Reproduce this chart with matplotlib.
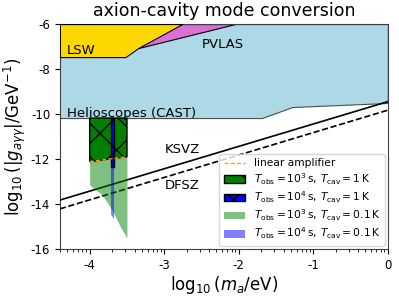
import numpy as np
import matplotlib
matplotlib.use("Agg")
import matplotlib.pyplot as plt
from matplotlib.ticker import FixedLocator

plt.rcParams["axes.unicode_minus"] = False

# exclusion limits (log10 m_a [eV], log10 g [GeV^-1])
cast_m = [-4.4, -1.69, -1.28, 0.0]
cast_g = [-10.18, -10.18, -9.69, -9.51]
lsw_m = [-4.4, -3.52, -3.35, -2.76]
lsw_g = [-7.47, -7.47, -7.07, -6.0]
pvlas_m = [-3.35, -2.05]
pvlas_g = [-7.07, -6.0]

# QCD axion lines
line_m = [-4.4, 0.0]
ksvz_g = [-13.83, -9.45]
dfsz_g = [-14.22, -9.83]

# projected sensitivities
top_g = -10.18
green_m = [-4.0, -3.5]
green1k_low = [-12.12, -11.9]
green01k_m = [-4.0, -4.0, -3.83, -3.70, -3.59, -3.5]
green01k_low = [-12.12, -13.16, -13.6, -14.27, -15.0, -15.52]
blue_m = [-3.72, -3.68]
blue1k_low = [-12.36, -12.36]
blue01k_low = [-14.45, -14.65]
amp_m = [-4.0, -3.5]
amp_g = [-12.12, -11.9]

fig = plt.figure(figsize=(3.99, 2.97), dpi=100)
ax = fig.add_axes([0.150, 0.162, 0.822, 0.757])

ax.fill_between(cast_m, cast_g, -6, color="lightblue", edgecolor="0.3", lw=0.8, zorder=1)
ax.fill_between(pvlas_m, pvlas_g, -6, color="orchid", edgecolor="k", lw=0.8, zorder=2)
ax.fill_between(lsw_m, lsw_g, -6, color="gold", edgecolor="k", lw=0.8, zorder=3)

ax.plot(line_m, ksvz_g, color="k", lw=1.2, zorder=4)
ax.plot(line_m, dfsz_g, color="k", lw=1.2, ls="--", zorder=4)

ax.fill_between(green01k_m, green01k_low, top_g, color="green", alpha=0.5, lw=0,
                label=r"$T_{\rm obs}=10^3\,{\rm s},\,T_{\rm cav}=0.1\,{\rm K}$", zorder=5)
ax.fill_between(blue_m, blue01k_low, top_g, color="blue", alpha=0.5, lw=0,
                label=r"$T_{\rm obs}=10^4\,{\rm s},\,T_{\rm cav}=0.1\,{\rm K}$", zorder=5)
ax.fill_between(green_m, green1k_low, top_g, facecolor="green", edgecolor="k", hatch="x", lw=1,
                label=r"$T_{\rm obs}=10^3\,{\rm s},\,T_{\rm cav}=1\,{\rm K}$", zorder=6)
ax.fill_between(blue_m, blue1k_low, top_g, facecolor="blue", edgecolor="k", hatch="x", lw=1,
                label=r"$T_{\rm obs}=10^4\,{\rm s},\,T_{\rm cav}=1\,{\rm K}$", zorder=7)
ax.plot(amp_m, amp_g, color="orange", ls=(0, (3, 1.5)), lw=1, label="linear amplifier", zorder=8)

ax.text(-4.31, -7.16, "LSW", fontsize=9.5, va="center", zorder=9)
ax.text(-2.49, -6.93, "PVLAS", fontsize=9.5, va="center", zorder=9)
ax.text(-4.31, -9.96, "Helioscopes (CAST)", fontsize=9.5, va="center", zorder=9)
ax.text(-2.99, -11.6, "KSVZ", fontsize=9.5, va="center", zorder=9)
ax.text(-2.99, -13.2, "DFSZ", fontsize=9.5, va="center", zorder=9)

ax.set_xlim(-4.4, 0)
ax.set_ylim(-16, -6)
ax.set_xticks([-4, -3, -2, -1, 0])
ax.set_xticklabels(["-4", "-3", "-2", "-1", "0"])
ax.set_yticks([-16, -14, -12, -10, -8, -6])
ax.set_yticklabels(["-16", "-14", "-12", "-10", "-8", "-6"])
minor = [d + np.log10(k) for d in range(-5, 0) for k in range(2, 10)]
ax.xaxis.set_minor_locator(FixedLocator([v for v in minor if -4.4 <= v <= 0]))
ax.tick_params(labelsize=8.5)
for s in ax.spines.values():
    s.set_color("0.25")

ax.set_xlabel(r"$\log_{10}(m_a/{\rm eV})$", fontsize=12, labelpad=2)
ax.set_ylabel(r"$\log_{10}(|g_{a\gamma\gamma}|/{\rm GeV}^{-1})$", fontsize=12, labelpad=2)
ax.set_title("axion-cavity mode conversion", fontsize=12.5)

h, l = ax.get_legend_handles_labels()
order = [4, 2, 3, 0, 1]
ax.legend([h[i] for i in order], [l[i] for i in order], loc="lower right", fontsize=7.7,
          labelspacing=0.25, borderaxespad=0.3, bbox_to_anchor=(1.0, 0.0))

fig.savefig("out.png", dpi=100)
